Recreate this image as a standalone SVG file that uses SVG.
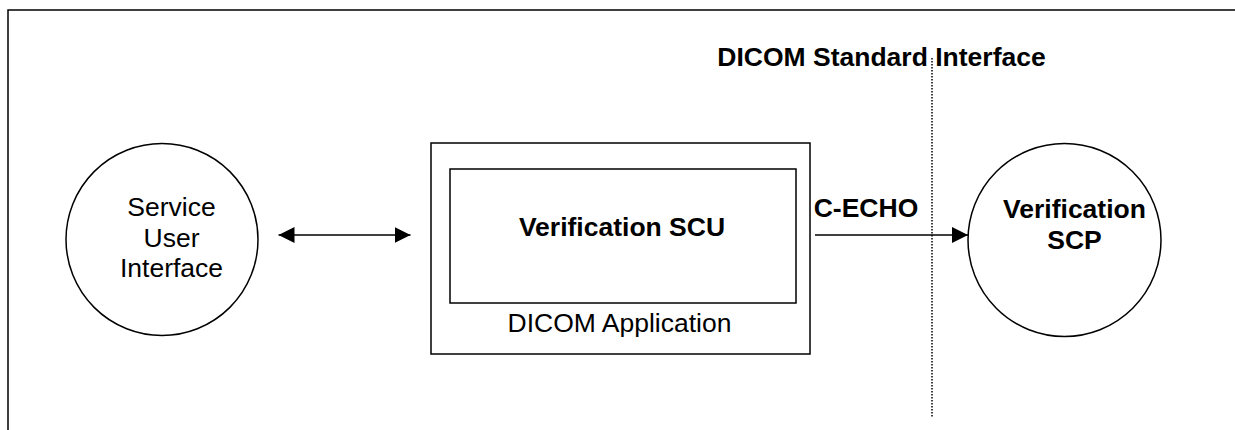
<svg xmlns="http://www.w3.org/2000/svg" width="1235" height="430" viewBox="0 0 1235 430">
<defs>
<style>
.s{fill:none;stroke:#000;stroke-width:1.5}
.t{font-family:"Liberation Sans",Arial,sans-serif;font-size:26.5px;fill:#000;text-anchor:middle}
.b{font-weight:bold}
</style>
<marker id="ah" markerWidth="16" markerHeight="16" viewBox="0 0 16 16" refX="16" refY="8" orient="auto-start-reverse" markerUnits="userSpaceOnUse">
<path d="M0,0 L16,8 L0,16 Z" fill="#000"/>
</marker>
</defs>
<rect width="1235" height="430" fill="#fff"/>
<rect x="8" y="10" width="1240" height="440" class="s"/>
<text class="t b" x="881.5" y="66">DICOM Standard Interface</text>
<line x1="932" y1="58" x2="932" y2="417" stroke="#000" stroke-width="1.5" stroke-dasharray="1.5,1.5"/>
<g id="service-user-interface">
<circle cx="162" cy="239.5" r="96" class="s"/>
<text class="t" x="171.5" y="216">Service</text>
<text class="t" x="171.5" y="246.5">User</text>
<text class="t" x="171.5" y="277">Interface</text>
</g>
<g id="dicom-application">
<rect x="431" y="143" width="379" height="211" class="s"/>
<text class="t" x="619.5" y="332">DICOM Application</text>
</g>
<g id="verification-scu">
<rect x="450" y="169" width="346" height="134" class="s"/>
<text class="t b" x="622" y="236">Verification SCU</text>
</g>
<g id="verification-scp">
<circle cx="1064.5" cy="240" r="96.5" class="s"/>
<text class="t b" x="1074.5" y="218">Verification</text>
<text class="t b" x="1074.5" y="249">SCP</text>
</g>
<g id="connectors">
<line x1="278.5" y1="235" x2="410.5" y2="235" class="s" marker-start="url(#ah)" marker-end="url(#ah)"/>
<line x1="815" y1="235" x2="968" y2="235" class="s" marker-end="url(#ah)"/>
<text class="t b" x="866" y="216.5">C-ECHO</text>
</g>
</svg>
